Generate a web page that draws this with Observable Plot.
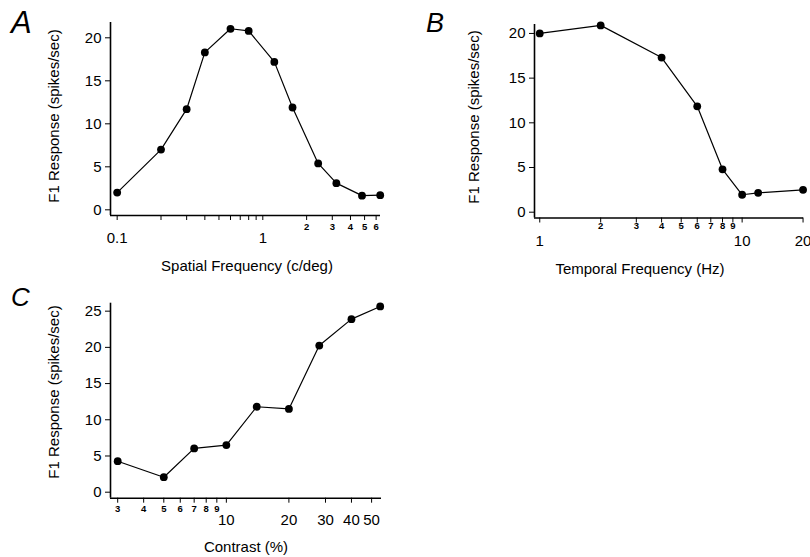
<!DOCTYPE html>
<html><head><meta charset="utf-8">
<script src="https://cdn.jsdelivr.net/npm/d3@7"></script>
<script src="https://cdn.jsdelivr.net/npm/@observablehq/plot@0.6"></script>
<style>
body{margin:0;background:#fff;}
#fig{position:relative;width:810px;height:557px;font-family:"Liberation Sans",Arial,sans-serif;color:#000;overflow:hidden;}
.p{position:absolute;}
.letter{position:absolute;font-style:italic;line-height:1;}
.ytitle{position:absolute;font-size:15px;white-space:nowrap;transform:translate(-50%,-50%) rotate(-90deg);}
.xtitle{position:absolute;font-size:15px;white-space:nowrap;transform:translate(-50%,-50%);}
</style></head><body><div id="fig"></div>
<script>
// Panel A: spatial frequency tuning
const spatialFreq = [0.1, 0.2, 0.3, 0.4, 0.6, 0.8, 1.2, 1.6, 2.4, 3.2, 4.8, 6.4];
const spatialResp = [2.0, 7.0, 11.7, 18.3, 21.05, 20.8, 17.2, 11.9, 5.4, 3.1, 1.65, 1.7];
const spatialTickMarks = [0.1,0.2,0.3,0.4,0.5,0.6,0.7,0.8,0.9,1,2,3,4,5,6];
const spatialMajorLabels = [0.1, 1];
const spatialMinorLabels = [2, 3, 4, 5, 6];
const spatialXDomain = [0.09, 6.43];
const spatialYDomain = [-0.66, 21.78];
const spatialYTicks = [0, 5, 10, 15, 20];

// Panel B: temporal frequency tuning
const temporalFreq = [1, 2, 4, 6, 8, 10, 12, 20];
const temporalResp = [20.0, 20.9, 17.3, 11.85, 4.8, 1.95, 2.17, 2.5];
const temporalTickMarks = [1,2,3,4,5,6,7,8,9,10,20];
const temporalMajorLabels = [1, 10, 20];
const temporalMinorLabels = [2,3,4,5,6,7,8,9];
const temporalXDomain = [0.942, 20.1];
const temporalYDomain = [-0.65, 21.0];
const temporalYTicks = [0, 5, 10, 15, 20];

// Panel C: contrast response
const contrastPct = [3, 5, 7, 10, 14, 20, 28, 40, 55];
const contrastResp = [4.28, 2.07, 6.05, 6.5, 11.8, 11.5, 20.25, 23.9, 25.65];
const contrastTickMarks = [3,4,5,6,7,8,9,10,20,30,40,50];
const contrastMajorLabels = [10, 20, 30, 40, 50];
const contrastMinorLabels = [3,4,5,6,7,8,9];
const contrastXDomain = [2.77, 55.8];
const contrastYDomain = [-0.83, 26.1];
const contrastYTicks = [0, 5, 10, 15, 20, 25];

const yTitle = "F1 Response (spikes/sec)";

function panel(o) {
  const data = o.xs.map((x, i) => ({x, y: o.ys[i]}));
  return Plot.plot({
    width: o.width, height: o.height,
    marginLeft: o.ml, marginRight: o.mr, marginTop: o.mt, marginBottom: o.mb,
    style: {fontFamily: '"Liberation Sans", Arial, sans-serif', fontSize: "15px", color: "#000", background: "transparent", overflow: "visible"},
    x: {type: "log", domain: o.xDomain},
    y: {domain: o.yDomain},
    marks: [
      Plot.axisY({ticks: o.yTicks, tickSize: 5, tickPadding: 4, fontSize: 15, label: null, tickFormat: d => String(d)}),
      Plot.axisX({ticks: o.tickMarks, tickSize: 5, tickFormat: () => "", label: null}),
      Plot.text(o.minor, {x: d => d, text: d => String(d), frameAnchor: "bottom", dy: o.minorDy, fontSize: 9.5, fontWeight: "bold"}),
      Plot.text(o.major, {x: d => d, text: d => String(d), frameAnchor: "bottom", dy: o.majorDy, fontSize: 15}),
      Plot.ruleX([o.xDomain[0]], {stroke: "#000", strokeWidth: 1.6}),
      Plot.ruleY([o.yDomain[0]], {stroke: "#000", strokeWidth: 1.6}),
      Plot.line(data, {x: "x", y: "y", stroke: "#000", strokeWidth: 1.2}),
      Plot.dot(data, {x: "x", y: "y", r: 3.9, fill: "#000", stroke: "none"})
    ]
  });
}

const fig = document.getElementById("fig");
function place(el, left, top) { el.classList.add("p"); el.style.left = left + "px"; el.style.top = top + "px"; fig.appendChild(el); }
function addText(cls, txt, left, top, size) {
  const d = document.createElement("div"); d.className = cls; d.textContent = txt;
  d.style.left = left + "px"; d.style.top = top + "px"; if (size) d.style.fontSize = size + "px";
  fig.appendChild(d);
}

place(panel({xs: spatialFreq, ys: spatialResp, xDomain: spatialXDomain, yDomain: spatialYDomain, yTicks: spatialYTicks,
  tickMarks: spatialTickMarks, major: spatialMajorLabels, minor: spatialMinorLabels,
  width: 400, height: 280, ml: 110, mr: 20, mt: 22, mb: 65, minorDy: 14, majorDy: 27}), 0, 0);

place(panel({xs: temporalFreq, ys: temporalResp, xDomain: temporalXDomain, yDomain: temporalYDomain, yTicks: temporalYTicks,
  tickMarks: temporalTickMarks, major: temporalMajorLabels, minor: temporalMinorLabels,
  width: 410, height: 280, ml: 134, mr: 7, mt: 24, mb: 62.5, minorDy: 10.5, majorDy: 27.5}), 400, 0);

place(panel({xs: contrastPct, ys: contrastResp, xDomain: contrastXDomain, yDomain: contrastYDomain, yTicks: contrastYTicks,
  tickMarks: contrastTickMarks, major: contrastMajorLabels, minor: contrastMinorLabels,
  width: 400, height: 277, ml: 110, mr: 19, mt: 22.7, mb: 59.3, minorDy: 14, majorDy: 27}), 0, 280);

addText("letter", "A", 11, 7, 31);
addText("letter", "B", 426, 10, 27);
addText("letter", "C", 11, 284, 26);

addText("ytitle", yTitle, 53, 116);
addText("ytitle", yTitle, 473, 117);
addText("ytitle", yTitle, 53, 392);

addText("xtitle", "Spatial Frequency (c/deg)", 247, 265);
addText("xtitle", "Temporal Frequency (Hz)", 640, 268);
addText("xtitle", "Contrast (%)", 246, 546);
</script></body></html>
